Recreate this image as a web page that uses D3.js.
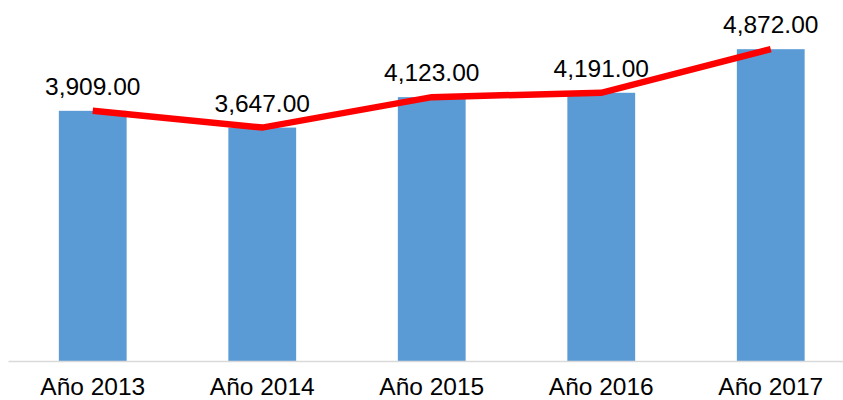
<!DOCTYPE html>
<html>
<head>
<meta charset="utf-8">
<script src="https://cdn.jsdelivr.net/npm/d3@7"></script>
<style>
body{margin:0;background:#fff}
svg{display:block;font-family:"Liberation Sans",Arial,sans-serif}
</style>
</head>
<body>
<svg id="chart"></svg>
<script>
var years=["Año 2013","Año 2014","Año 2015","Año 2016","Año 2017"]
var values=[3909,3647,4123,4191,4872]

var width=843,height=400

var svg=d3.select("#chart")
.attr("width",width)
.attr("height",height)

var xScale=d3.scaleBand()
.domain(years)
.range([8,855.5])
.paddingInner(0.6)
.paddingOuter(0.3)

var yScale=d3.scaleLinear()
.domain([0,5000])
.range([361,41])

var cx=d=>xScale(d)+xScale.bandwidth()/2

svg.selectAll(".bar")
.data(values)
.enter()
.append("rect")
.classed("bar",true)
.attr("x",(d,i)=>xScale(years[i]))
.attr("y",d=>yScale(d))
.attr("width",xScale.bandwidth())
.attr("height",d=>yScale(0)-yScale(d))
.attr("fill","#5B9BD5")

// axis
var xAxis=d3.axisBottom(xScale).tickSize(0)
var gx=svg.append("g")
.attr("transform","translate(0,"+yScale(0)+")")
.call(xAxis)
gx.select(".domain").attr("stroke","#d9d9d9").attr("stroke-width",1.5)
gx.selectAll("text")
.attr("font-size","24.5px")
.attr("font-family","Liberation Sans, Arial, sans-serif")
.attr("fill","#000")
.attr("dy","0")
.attr("y",33.5)

var line=d3.line()
.x((d,i)=>cx(years[i]))
.y(d=>yScale(d))

svg.append("path")
.datum(values)
.attr("d",line)
.attr("fill","none")
.attr("stroke","#ff0000")
.attr("stroke-width",6.5)
.attr("stroke-linejoin","miter")

svg.selectAll(".label")
.data(values)
.enter()
.append("text")
.classed("label",true)
.attr("x",(d,i)=>cx(years[i]))
.attr("y",d=>yScale(d)-16)
.attr("text-anchor","middle")
.attr("font-size","24.5px")
.attr("fill","#000")
.text(d=>d3.format(",.2f")(d))
</script>
</body>
</html>
